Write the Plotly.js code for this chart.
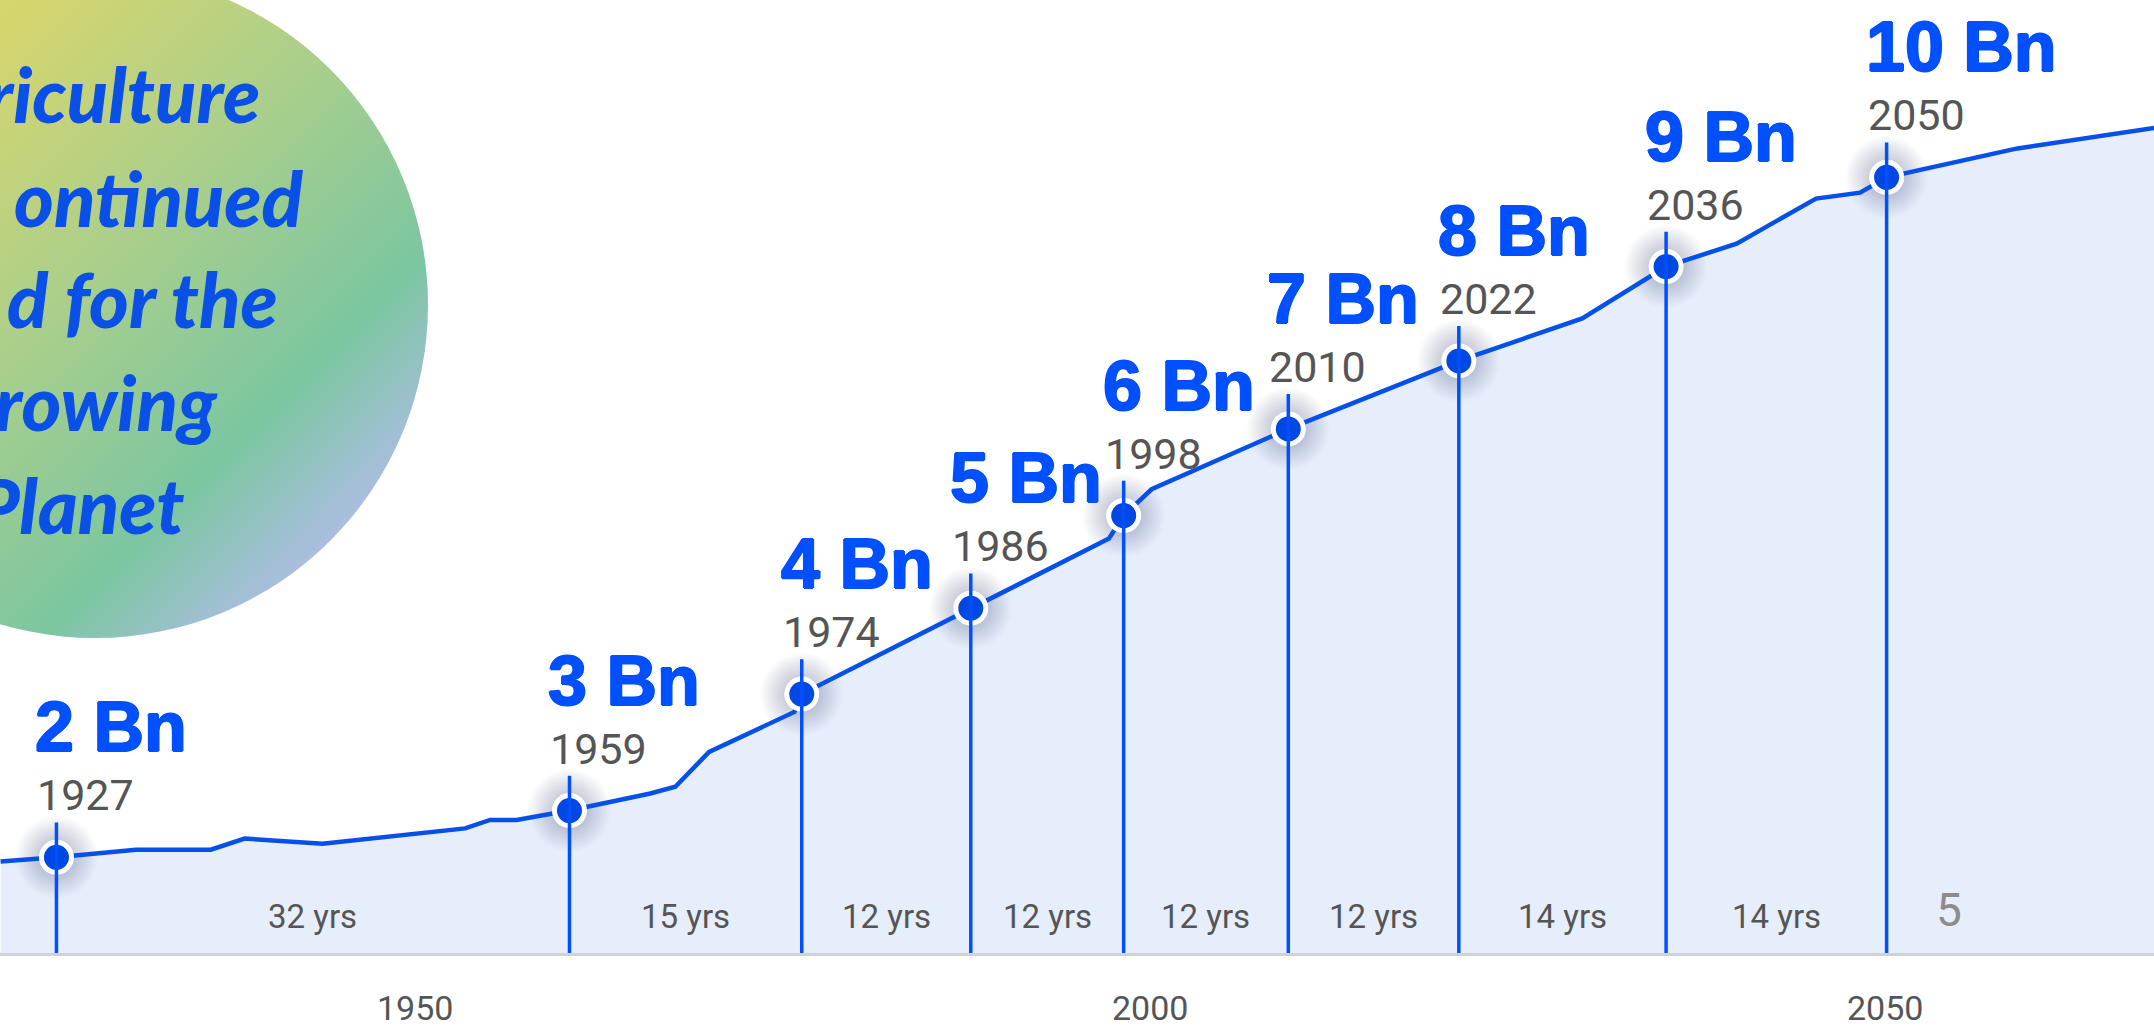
<!DOCTYPE html>
<html>
<head>
<meta charset="utf-8">
<script src="https://cdn.plot.ly/plotly-3.0.1.min.js"></script>
<style>
  html, body { margin: 0; padding: 0; background: #ffffff; }
  #chart { width: 2154px; height: 1034px; }
</style>
</head>
<body>
<div id="chart"></div>
<script>
// ---------------- DATA ----------------
// population curve as drawn (x = year, y = billions on the drawn scale)
const lineYears  = [1921.8, 1925.6, 1931.0, 1936.1, 1938.4, 1943.7, 1953.4, 1955.1, 1956.9, 1960.5,
                    1966.0, 1967.7, 1970.0, 1975.8, 1976.3, 1987.8, 1992.4, 1997.2, 1998.2, 2000.1,
                    2009.4, 2021.0, 2029.4, 2035.1, 2039.9, 2045.3, 2048.3, 2050.1, 2059.0, 2068.3];
const lineValues = [1.95, 2.00, 2.09, 2.09, 2.22, 2.16, 2.34, 2.44, 2.44, 2.55,
                    2.75, 2.83, 3.24, 3.71, 3.92, 4.93, 5.32, 5.75, 6.02, 6.33,
                    7.04, 7.84, 8.34, 8.95, 9.22, 9.75, 9.82, 10.00, 10.34, 10.58];

// milestones
const milestoneYears = [1927, 1959, 1974, 1986, 1998, 2010, 2022, 2036, 2050];
const milestoneBn    = [2, 3, 4, 5, 6, 7, 8, 9, 10];
const markerX        = [1925.6, 1960.5, 1976.3, 1987.8, 1998.2, 2009.4, 2021.0, 2035.1, 2050.1];
const markerY        = [2.00, 2.55, 3.92, 4.93, 6.02, 7.04, 7.84, 8.95, 10.00];

// x axis tick labels
const tickYears = [1950, 2000, 2050];

// text in the round badge (cut at the left edge in the picture)
const badgeLines = ["riculture", "ontinued", "d for the", "rowing", "Planet"];
const cornerNumber = "5";

// ---------------- LAYOUT HELPERS ----------------
const W = 2154, H = 1034;
const MB = 81;                 // bottom margin
const PH = H - MB;             // plot height
const X_RANGE = [1921.76, 2068.29];
const Y_RANGE = [0.874, 12.086];
const pxX = x => x / W;
const pxY = y => (PH - y) / PH;

const BLUE = '#0050ff';
const LINE_BLUE = '#0650ea';
const GREY = '#555555';

// vertical milestone stems
const stemX = [], stemY = [];
markerX.forEach((x, i) => {
  stemX.push(x, x, null);
  stemY.push(Y_RANGE[0], markerY[i] + 0.41, null);
});

const traces = [
  { // area fill
    x: lineYears, y: lineValues, type: 'scatter', mode: 'lines',
    line: { width: 0, color: 'rgba(0,0,0,0)' },
    fill: 'tozeroy', fillcolor: '#e7eefb', hoverinfo: 'skip'
  },
  { // soft shadow around milestone points
    x: markerX, y: markerY, type: 'scatter', mode: 'markers',
    marker: { size: 84, color: 'rgba(35,45,95,0)',
              gradient: { type: 'radial', color: 'rgba(35,45,95,0.4)' },
              line: { width: 0 } },
    hoverinfo: 'skip'
  },
  { // population line
    x: lineYears, y: lineValues, type: 'scatter', mode: 'lines',
    line: { width: 4.5, color: LINE_BLUE }, hoverinfo: 'skip'
  },
  { // milestone points
    x: markerX, y: markerY, type: 'scatter', mode: 'markers',
    marker: { size: 30, color: '#0048e4', line: { color: '#ffffff', width: 5 } },
    hoverinfo: 'skip'
  },
  { // stems
    x: stemX, y: stemY, type: 'scatter', mode: 'lines',
    line: { width: 3.5, color: BLUE }, hoverinfo: 'skip'
  }
];

const annotations = [];
const heavy = '1px 0 0 ' + BLUE + ', -1px 0 0 ' + BLUE + ', 0 1px 0 ' + BLUE + ', 0 -0.6px 0 ' + BLUE;

// milestone labels
milestoneYears.forEach((yr, i) => {
  annotations.push({
    x: markerX[i], y: markerY[i], xref: 'x', yref: 'y',
    text: milestoneBn[i] + ' Bn', showarrow: false,
    xanchor: 'left', yanchor: 'middle', xshift: -23, yshift: 130,
    font: { family: 'Liberation Sans, Arial, sans-serif', size: 70, color: BLUE, weight: 'bold',
            shadow: heavy }
  });
  annotations.push({
    x: markerX[i], y: markerY[i], xref: 'x', yref: 'y',
    text: String(yr), showarrow: false,
    xanchor: 'left', yanchor: 'middle', xshift: -21, yshift: 62,
    font: { family: 'Roboto, sans-serif', size: 43, color: GREY }
  });
});

// gaps between milestones
for (let i = 0; i < milestoneYears.length - 1; i++) {
  annotations.push({
    x: (markerX[i] + markerX[i + 1]) / 2, y: pxY(916), xref: 'x', yref: 'paper',
    text: (milestoneYears[i + 1] - milestoneYears[i]) + ' yrs', showarrow: false,
    xanchor: 'center', yanchor: 'middle',
    font: { family: 'Roboto, sans-serif', size: 33, color: GREY }
  });
}

// corner number
annotations.push({
  x: pxX(1949), y: pxY(910), xref: 'paper', yref: 'paper',
  text: cornerNumber, showarrow: false, xanchor: 'center', yanchor: 'middle',
  font: { family: 'Roboto, sans-serif', size: 46, color: '#8c8c8c' }
});

// badge text (right edges / baselines in pixels)
const badgeRight = [262, 306, 280, 220, 186];
const badgeBase  = [123, 227, 328, 431, 534];
const BADGE_SIZE = 76;
badgeLines.forEach((t, i) => {
  annotations.push({
    x: pxX(badgeRight[i]), y: pxY(badgeBase[i] - 0.387 * BADGE_SIZE),
    xref: 'paper', yref: 'paper', text: t, showarrow: false,
    xanchor: 'right', yanchor: 'middle',
    font: { family: 'Lato, "Open Sans", sans-serif', size: BADGE_SIZE, color: '#0a50e6',
            style: 'italic', weight: 900 }
  });
});

// round gradient badge as an svg image
const CX = 95, CY = 305, R = 333;
const badgeSvg =
  '<svg xmlns="http://www.w3.org/2000/svg" width="' + (2 * R) + '" height="' + (2 * R) + '" viewBox="0 0 ' + (2 * R) + ' ' + (2 * R) + '">' +
  '<defs><linearGradient id="g" x1="0" y1="0" x2="1" y2="1">' +
  '<stop offset="0" stop-color="#e2da5c"/>' +
  '<stop offset="0.24" stop-color="#d3d570"/>' +
  '<stop offset="0.47" stop-color="#abcf8b"/>' +
  '<stop offset="0.71" stop-color="#7cc6a1"/>' +
  '<stop offset="0.86" stop-color="#adbde3"/>' +
  '<stop offset="1" stop-color="#bcbcf2"/>' +
  '</linearGradient></defs>' +
  '<circle cx="' + R + '" cy="' + R + '" r="' + R + '" fill="url(#g)"/></svg>';

const layout = {
  width: W, height: H,
  margin: { l: 0, r: 0, t: 0, b: MB, pad: 0 },
  paper_bgcolor: '#ffffff', plot_bgcolor: '#ffffff',
  showlegend: false,
  xaxis: {
    range: X_RANGE, fixedrange: true, showgrid: false, zeroline: false,
    showline: true, linecolor: '#cfd2d8', linewidth: 3,
    tickmode: 'array', tickvals: tickYears, ticktext: tickYears.map(String),
    ticks: '', ticklabelstandoff: 23,
    tickfont: { family: 'Roboto, sans-serif', size: 34, color: GREY }
  },
  yaxis: { range: Y_RANGE, visible: false, fixedrange: true },
  images: [{
    source: 'data:image/svg+xml;charset=utf-8,' + encodeURIComponent(badgeSvg),
    xref: 'paper', yref: 'paper',
    x: pxX(CX - R), y: pxY(CY - R),
    sizex: (2 * R) / W, sizey: (2 * R) / PH,
    xanchor: 'left', yanchor: 'top', sizing: 'stretch', layer: 'above'
  }],
  annotations: annotations
};

Plotly.newPlot('chart', traces, layout, { displayModeBar: false, staticPlot: true });
</script>
</body>
</html>
